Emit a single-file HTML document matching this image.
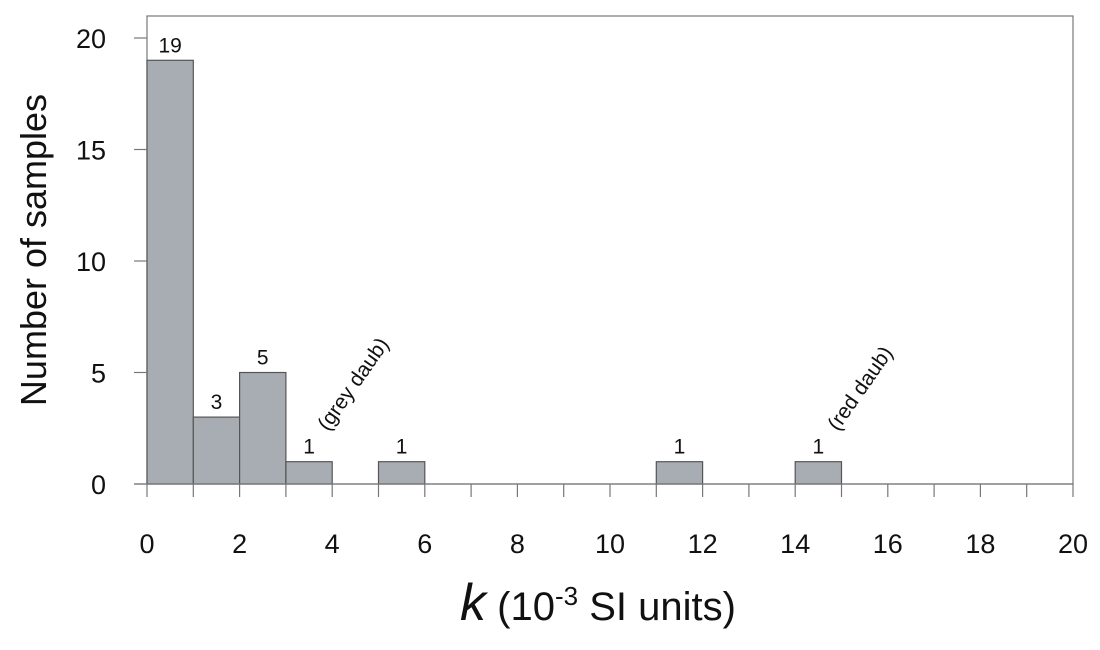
<!DOCTYPE html>
<html><head><meta charset="utf-8">
<style>
html,body{margin:0;padding:0;background:#fff;}
svg{display:block;font-family:"Liberation Sans",Arial,sans-serif;}
</style></head>
<body>
<svg id="chart" width="1100" height="650" viewBox="0 0 1100 650" xmlns="http://www.w3.org/2000/svg">
<rect x="147" y="16" width="926" height="468" fill="none" stroke="#777" stroke-width="1.2"/>
<g id="bars"></g>
<g id="axes"></g>
<text transform="translate(46,250) rotate(-90)" text-anchor="middle" font-size="36px" fill="#111">Number of samples</text>
<text x="598" y="620" text-anchor="middle" font-size="40px" fill="#111"><tspan font-style="italic" font-size="52px">k</tspan> (10<tspan dy="-15" font-size="26px">-3</tspan><tspan dy="15"> SI units)</tspan></text>
<text transform="translate(328,432) rotate(-55)" font-size="21px" fill="#111">(grey daub)</text>
<text transform="translate(838,432) rotate(-55)" font-size="21px" fill="#111">(red daub)</text>
</svg>
<script>
const binStarts=[0,1,2,3,5,11,14];
const counts=[19,3,5,1,1,1,1];
const xTicks=[0,2,4,6,8,10,12,14,16,18,20];
const yTicks=[0,5,10,15,20];
const NS="http://www.w3.org/2000/svg";
const x=v=>147+v*46.3;
const y=v=>484-v*22.3;
const bars=document.getElementById('bars');
const axes=document.getElementById('axes');
function mk(tag,attrs,parent){const e=document.createElementNS(NS,tag);for(const k in attrs)e.setAttribute(k,attrs[k]);parent.appendChild(e);return e;}
binStarts.forEach((b,i)=>{
  const r=mk('rect',{x:x(b),y:y(counts[i]),width:x(b+1)-x(b),height:y(0)-y(counts[i]),fill:'#a8adb3',stroke:'#555','stroke-width':1.2},bars);
  
  
  const t=mk('text',{x:(x(b)+x(b+1))/2,y:y(counts[i])-8,'text-anchor':'middle','font-size':'21px',fill:'#111'},bars);
  
  
  t.textContent=counts[i];
});
mk('line',{x1:134,x2:1073,y1:y(0),y2:y(0),stroke:'#777','stroke-width':1.2},axes);
for(let v=0;v<=20;v++){
  const l=mk('line',{x1:x(v),x2:x(v),y1:y(0),y2:y(0)+13,stroke:'#777','stroke-width':1.2},axes);
  
  
}
xTicks.forEach(v=>{
  const t=mk('text',{x:x(v),y:553,'text-anchor':'middle','font-size':'27px',fill:'#111'},axes);
  
  
  t.textContent=v;
});
yTicks.forEach(v=>{
  const l=mk('line',{x1:134,x2:147,y1:y(v),y2:y(v),stroke:'#777','stroke-width':1.2},axes);
  
  
  const t=mk('text',{x:106,y:y(v)+10,'text-anchor':'end','font-size':'27px',fill:'#111'},axes);
  
  
  t.textContent=v;
});
</script>
</body></html>
